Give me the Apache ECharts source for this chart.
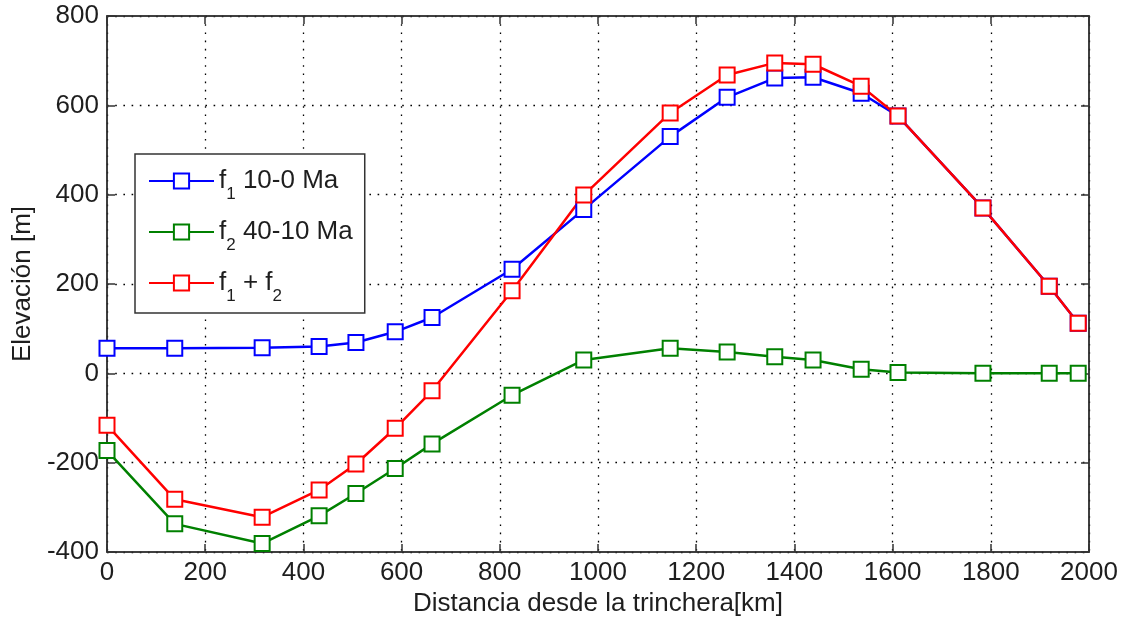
<!DOCTYPE html>
<html>
<head>
<meta charset="utf-8">
<script src="https://cdn.jsdelivr.net/npm/echarts@6/dist/echarts.min.js"></script>
<style>
  html, body { margin: 0; padding: 0; background: #fff; }
  #chart { width: 1131px; height: 623px; }
</style>
</head>
<body>
<div id="chart"></div>
<script>
// Distance from the trench (km) and elevation components (m)
const distance = [0, 138, 316, 432, 507, 587, 662, 825, 971, 1147, 1263, 1360, 1438, 1536, 1611, 1784, 1919, 1978];
const f1 = [56, 56, 57, 60, 69, 93, 125, 233, 367, 530, 618, 661, 663, 627, 576, 370, 195, 112];
const f2 = [-173, -337, -381, -319, -269, -213, -158, -49, 30, 56, 48, 37, 30, 9, 2, 0, 0, 0];
const f1PlusF2 = [-116, -282, -322, -261, -203, -123, -39, 185, 399, 583, 668, 695, 692, 643, 576, 370, 195, 112];

const seriesNames = ['f1 10-0 Ma', 'f2 40-10 Ma', 'f1 + f2'];
const legendRich = {
  'f1 10-0 Ma': '{m|f}{s|1}{m| 10-0 Ma}',
  'f2 40-10 Ma': '{m|f}{s|2}{m| 40-10 Ma}',
  'f1 + f2': '{m|f}{s|1}{m| + f}{s|2}'
};

const FONT = '"Liberation Sans", Arial, Helvetica, sans-serif';
const TXT = '#1e1e1e';
const FS = 26;

const pairs = (ys) => distance.map((x, i) => [x, ys[i]]);

function lineSeries(name, ys, color) {
  return {
    name: name,
    type: 'line',
    data: pairs(ys),
    symbol: 'emptyRect',
    symbolSize: 15,
    showAllSymbol: true,
    lineStyle: { color: color, width: 2.5 },
    itemStyle: { color: color, borderColor: color, borderWidth: 2 },
    emphasis: { disabled: true },
    animation: false
  };
}

const gridSplit = { show: true, lineStyle: { color: '#000', width: 1.3, type: [1.6, 6.6] } };
const axisLine = { show: true, onZero: false, lineStyle: { color: '#333', width: 1.5 } };
const tickInside = { show: true, inside: true, length: 8, lineStyle: { color: '#333', width: 1.5 } };
const plain = (v) => String(v);

const chart = echarts.init(document.getElementById('chart'), null, { renderer: 'canvas' });
chart.setOption({
  backgroundColor: '#fff',
  textStyle: { fontFamily: FONT },
  grid: { left: 107, right: 42, top: 16, bottom: 71, show: true, borderColor: '#333', borderWidth: 1.5, containLabel: false },
  legend: {
    data: seriesNames,
    orient: 'vertical',
    left: 135,
    top: 154,
    itemWidth: 65,
    itemHeight: 19,
    itemGap: 16,
    padding: [14, 12, 8, 13],
    backgroundColor: '#fff',
    borderColor: '#333',
    borderWidth: 1.5,
    borderRadius: 0,
    selectedMode: false,
    formatter: (name) => legendRich[name],
    textStyle: {
      color: TXT,
      rich: {
        m: { fontSize: FS, fontFamily: FONT, color: TXT, lineHeight: 44, verticalAlign: 'middle' },
        s: { fontSize: 17, fontFamily: FONT, color: TXT, lineHeight: 18, verticalAlign: 'bottom' }
      }
    }
  },
  xAxis: [
    {
      type: 'value', min: 0, max: 2000, interval: 200,
      name: 'Distancia desde la trinchera[km]',
      nameLocation: 'middle', nameGap: 38,
      nameTextStyle: { fontSize: FS, color: TXT, fontFamily: FONT },
      axisLine: axisLine, axisTick: tickInside,
      axisLabel: { fontSize: FS, color: TXT, margin: 8, fontFamily: FONT, formatter: plain },
      splitLine: gridSplit
    },
    {
      type: 'value', min: 0, max: 2000, interval: 200, position: 'top',
      axisLine: axisLine, axisTick: tickInside,
      axisLabel: { show: false }, splitLine: { show: false }
    }
  ],
  yAxis: [
    {
      type: 'value', min: -400, max: 800, interval: 200,
      name: 'Elevación [m]',
      nameLocation: 'middle', nameGap: 70,
      nameTextStyle: { fontSize: FS, color: TXT, fontFamily: FONT },
      axisLine: axisLine, axisTick: tickInside,
      axisLabel: { fontSize: FS, color: TXT, margin: 8, fontFamily: FONT, formatter: plain },
      splitLine: gridSplit
    },
    {
      type: 'value', min: -400, max: 800, interval: 200, position: 'right',
      axisLine: axisLine, axisTick: tickInside,
      axisLabel: { show: false }, splitLine: { show: false }
    }
  ],
  series: [
    lineSeries(seriesNames[0], f1, '#0000ff'),
    lineSeries(seriesNames[1], f2, '#008000'),
    lineSeries(seriesNames[2], f1PlusF2, '#ff0000')
  ]
});
</script>
</body>
</html>
